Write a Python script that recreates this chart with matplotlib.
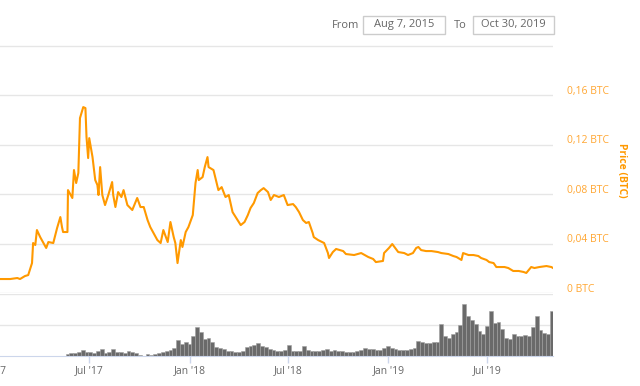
import pandas as pd
import matplotlib
matplotlib.use("Agg")
import matplotlib.pyplot as plt
import matplotlib.dates as mdates
from matplotlib.transforms import ScaledTranslation
from matplotlib.patches import Rectangle

plt.rcParams['font.family'] = ['Open Sans', 'DejaVu Sans']

# ── DATA ──────────────────────────────────────────────────────────────────────

START = pd.Timestamp("2017-01-01")

# price samples: days since 2017-01-01, price in BTC
price_day = [17, 36, 49, 54, 63, 69, 76, 78, 82, 85, 91, 96, 102, 106, 115, 122,
             128, 131, 133, 141, 142, 150, 153, 157, 161, 164, 170, 174, 176, 179,
             181, 187, 192, 196, 198, 201, 205, 210, 216, 223, 225, 229, 234, 240,
             244, 251, 260, 269, 275, 281, 288, 293, 299, 306, 312, 317, 325, 330,
             336, 339, 343, 349, 352, 358, 363, 371, 376, 380, 382, 389, 393, 398,
             400, 409, 418, 424, 431, 437, 444, 453, 459, 466, 472, 477, 483, 490,
             496, 501, 509, 514, 520, 529, 538, 545, 555, 560, 566, 573, 579, 584,
             591, 593, 601, 612, 619, 621, 628, 634, 647, 652, 667, 680, 693, 702,
             707, 720, 722, 731, 737, 748, 759, 766, 775, 781, 785, 790, 799, 809,
             821, 827, 840, 849, 855, 864, 867, 877, 886, 895, 900, 910, 915, 923,
             928, 937, 943, 950, 959, 969, 978, 983, 992, 998, 1007, 1020, 1029, 1032]
price_btc = [0.0113, 0.0113, 0.0121, 0.0113, 0.0137, 0.0145, 0.0242, 0.0404, 0.0388,
             0.0509, 0.0452, 0.0412, 0.0364, 0.0412, 0.0404, 0.0525, 0.0614, 0.0533,
             0.0493, 0.0493, 0.0832, 0.0768, 0.0994, 0.0889, 0.0970, 0.1414, 0.1503,
             0.1495, 0.1260, 0.1091, 0.1252, 0.1099, 0.0913, 0.0873, 0.0792, 0.1018,
             0.0792, 0.0711, 0.0792, 0.0897, 0.0792, 0.0695, 0.0816, 0.0776, 0.0832,
             0.0711, 0.0671, 0.0768, 0.0695, 0.0695, 0.0590, 0.0533, 0.0485, 0.0428,
             0.0404, 0.0509, 0.0412, 0.0574, 0.0452, 0.0404, 0.0242, 0.0428, 0.0372,
             0.0493, 0.0533, 0.0630, 0.0889, 0.0994, 0.0913, 0.0937, 0.1018, 0.1099,
             0.1018, 0.0994, 0.0832, 0.0856, 0.0776, 0.0792, 0.0654, 0.0590, 0.0549,
             0.0574, 0.0630, 0.0687, 0.0727, 0.0808, 0.0832, 0.0848, 0.0816, 0.0752,
             0.0792, 0.0776, 0.0792, 0.0711, 0.0719, 0.0695, 0.0654, 0.0590, 0.0566,
             0.0574, 0.0485, 0.0452, 0.0428, 0.0404, 0.0323, 0.0283, 0.0331, 0.0356,
             0.0339, 0.0315, 0.0307, 0.0323, 0.0291, 0.0275, 0.0250, 0.0259, 0.0323,
             0.0364, 0.0396, 0.0331, 0.0323, 0.0307, 0.0323, 0.0364, 0.0372, 0.0347,
             0.0339, 0.0339, 0.0331, 0.0323, 0.0315, 0.0299, 0.0291, 0.0267, 0.0323,
             0.0307, 0.0307, 0.0299, 0.0283, 0.0267, 0.0250, 0.0242, 0.0210, 0.0210,
             0.0210, 0.0202, 0.0178, 0.0178, 0.0170, 0.0162, 0.0210, 0.0202, 0.0210,
             0.0218, 0.0210, 0.0202]

# weekly volume (relative units), starting 2017-05-22
vol_start = "2017-05-22"
volume = [2, 3, 3, 4, 6, 4, 4, 3, 5, 7, 3, 4, 7, 4, 4, 3, 5, 4, 3, 1,
          0, 2, 1, 2, 3, 4, 5, 6, 8, 16, 12, 14, 12,
          20, 29, 24, 17, 18, 14, 9, 8, 7,
          5, 5, 4, 4, 5, 9, 10, 11, 13, 10, 9, 7, 6, 5, 5, 6, 11, 5, 5, 5, 10, 6,
          5, 5, 5, 6, 7, 5, 6, 5, 5, 4, 4, 4, 5, 6, 8, 7, 7, 6, 6, 8, 10, 8,
          7, 6, 6, 6, 7, 8, 15, 14, 13, 13, 14, 14, 32, 20, 18, 22, 24, 31, 52, 40,
          36, 32, 25, 22, 30, 45, 33, 34, 27, 18, 17, 22, 20, 20, 21, 20, 29, 40,
          26, 23, 22, 45]

price_ticks = [0, 0.04, 0.08, 0.12, 0.16, 0.20]
price_labels = ["0 BTC", "0,04 BTC", "0,08 BTC", "0,12 BTC", "0,16 BTC", ""]

date_from = "Aug 7, 2015"
date_to = "Oct 30, 2019"

# ── STYLE ─────────────────────────────────────────────────────────────────────

LINE = "#FF9900"
LABEL = "#FFA733"
GRID = "#e6e6e6"
TEXT = "#666666"
AXIS = "#ccd6eb"

price_dates = START + pd.to_timedelta(price_day, unit="D")
vol_dates = pd.date_range(vol_start, periods=len(volume), freq="7D")
x_lo, x_hi = pd.Timestamp("2017-01-01"), pd.Timestamp("2019-10-30")

W, H = 640, 386
fig = plt.figure(figsize=(W / 100, H / 100), dpi=100)
fig.patch.set_facecolor("white")

x0 = -9.4  # pixel of 2017-01-01 (just off the left edge)
ax = fig.add_axes([x0 / W, (H - 293) / H, (553 - x0) / W, (293 - 45) / H])
axv = fig.add_axes([x0 / W, (H - 356) / H, (553 - x0) / W, (356 - 294) / H])

# price panel
ax.plot(price_dates, price_btc, color=LINE, linewidth=1.5, zorder=3)
ax.set_xlim(x_lo, x_hi)
ax.set_ylim(0, 0.2005)
ax.set_yticks(price_ticks)
ax.yaxis.grid(True, color=GRID, linewidth=1)
ax.tick_params(left=False, right=False, bottom=False,
               labelleft=False, labelbottom=False)
for s in ax.spines.values():
    s.set_visible(False)

off = ScaledTranslation(14 / 100, 4 / 100, fig.dpi_scale_trans)
for v, lab in zip(price_ticks, price_labels):
    ax.text(1, v, lab, transform=ax.get_yaxis_transform() + off,
            ha="left", va="center", color=LABEL, fontsize=7.5)

fig.text(622 / W, 1 - 170 / H, "Price (BTC)", rotation=270, ha="center",
         va="center", color=LINE, fontsize=7.5, fontweight="bold")

# volume panel
axv.bar(vol_dates, volume, width=7, color="#6a6a6a", edgecolor="#a0a0a0",
        linewidth=0.4, zorder=2)
axv.set_xlim(x_lo, x_hi)
axv.set_ylim(0, 62)
axv.set_yticks([31, 62])
axv.yaxis.grid(True, color=GRID, linewidth=1)
axv.tick_params(left=False, labelleft=False)
for s in ["top", "left", "right"]:
    axv.spines[s].set_visible(False)
axv.spines["bottom"].set_color(AXIS)
axv.xaxis.set_major_locator(mdates.MonthLocator(bymonth=[1, 7]))
axv.xaxis.set_major_formatter(mdates.DateFormatter("%b '%y"))
axv.tick_params(axis="x", length=5, width=1, color=AXIS, labelcolor=TEXT,
                labelsize=7.5, pad=1.5)

# range selector
ty = 1 - 25 / H
fig.text(332 / W, ty, "From", ha="left", va="center", color=TEXT, fontsize=8)
fig.text(454 / W, ty, "To", ha="left", va="center", color=TEXT, fontsize=8)
for (bx0, bx1), lab in [((363, 445), date_from), ((473, 554), date_to)]:
    fig.patches.append(Rectangle((bx0 / W, 1 - 34 / H), (bx1 - bx0) / W, 18 / H,
                                 transform=fig.transFigure, facecolor="white",
                                 edgecolor="#cccccc", linewidth=1))
    fig.text((bx0 + bx1) / 2 / W, ty, lab, ha="center", va="center",
             color=TEXT, fontsize=8)

fig.savefig("out.png", dpi=100, facecolor="white")
